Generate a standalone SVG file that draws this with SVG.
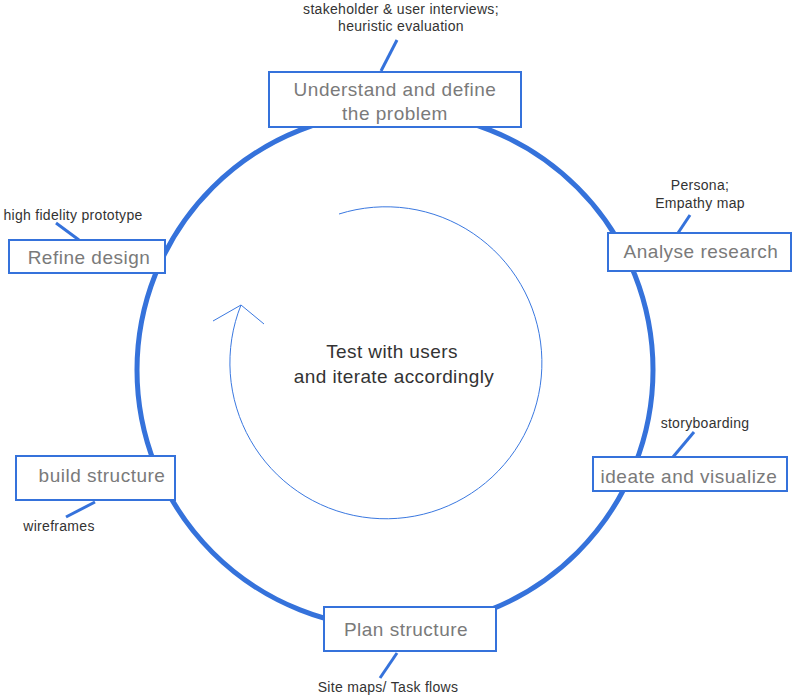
<svg xmlns="http://www.w3.org/2000/svg" width="792" height="696" viewBox="0 0 792 696">
<style>
.box{fill:#fff;stroke:#3572db;stroke-width:2}
.lbl{font-family:"Helvetica Neue","Liberation Sans",Arial,sans-serif;font-size:19px;letter-spacing:0.5px;fill:#7a7a7a;text-anchor:middle}
.ann{font-family:"Helvetica Neue","Liberation Sans",Arial,sans-serif;font-size:14px;letter-spacing:0.3px;fill:#333;text-anchor:middle}
.lead{stroke:#3572db;stroke-width:3;fill:none}
.big{fill:none;stroke:#3572db;stroke-width:5}
.thin{fill:none;stroke:#3a78e0;stroke-width:1}
.mid{font-family:"Helvetica Neue","Liberation Sans",Arial,sans-serif;font-size:19px;letter-spacing:0.4px;fill:#333;text-anchor:middle}
</style>
<rect width="792" height="696" fill="#fff"/>
<g id="connectors">
<circle class="big" cx="395" cy="370" r="258"/>
<path class="thin" d="M339,214 A156,156 0 1 1 241,305"/>
<polyline class="thin" points="213,321 241,305 264,324"/>
<line class="lead" x1="397" y1="40" x2="381" y2="71"/>
<line class="lead" x1="56" y1="223" x2="79" y2="240"/>
<line class="lead" x1="690" y1="215" x2="678" y2="233"/>
<line class="lead" x1="694" y1="432" x2="673" y2="457"/>
<line class="lead" x1="66" y1="517" x2="95" y2="502"/>
<line class="lead" x1="397" y1="653" x2="380" y2="678"/>
</g>
<g id="understand">
<rect class="box" x="269" y="72" width="252" height="55"/>
<text class="lbl" x="395" y="96">Understand and define</text>
<text class="lbl" x="395" y="120">the problem</text>
<text class="ann" x="401" y="14">stakeholder &amp; user interviews;</text>
<text class="ann" x="401" y="31">heuristic evaluation</text>
</g>
<g id="refine">
<rect class="box" x="9" y="240" width="156" height="33"/>
<text class="lbl" x="89" y="264">Refine design</text>
<text class="ann" x="73" y="220">high fidelity prototype</text>
</g>
<g id="analyse">
<rect class="box" x="608" y="233" width="183" height="38"/>
<text class="lbl" x="701" y="258">Analyse research</text>
<text class="ann" x="700" y="190">Persona;</text>
<text class="ann" x="700" y="208">Empathy map</text>
</g>
<g id="ideate">
<rect class="box" x="593" y="457" width="194" height="34"/>
<text class="lbl" x="689" y="483">ideate and visualize</text>
<text class="ann" x="705" y="428">storyboarding</text>
</g>
<g id="build">
<rect class="box" x="16" y="456" width="159" height="44"/>
<text class="lbl" x="102" y="482">build structure</text>
<text class="ann" x="59" y="531">wireframes</text>
</g>
<g id="plan">
<rect class="box" x="324" y="607" width="172" height="44"/>
<text class="lbl" x="406" y="636">Plan structure</text>
<text class="ann" x="388" y="692">Site maps/ Task flows</text>
</g>
<g id="center">
<text class="mid" x="392" y="358">Test with users</text>
<text class="mid" x="394" y="383">and iterate accordingly</text>
</g>
</svg>
